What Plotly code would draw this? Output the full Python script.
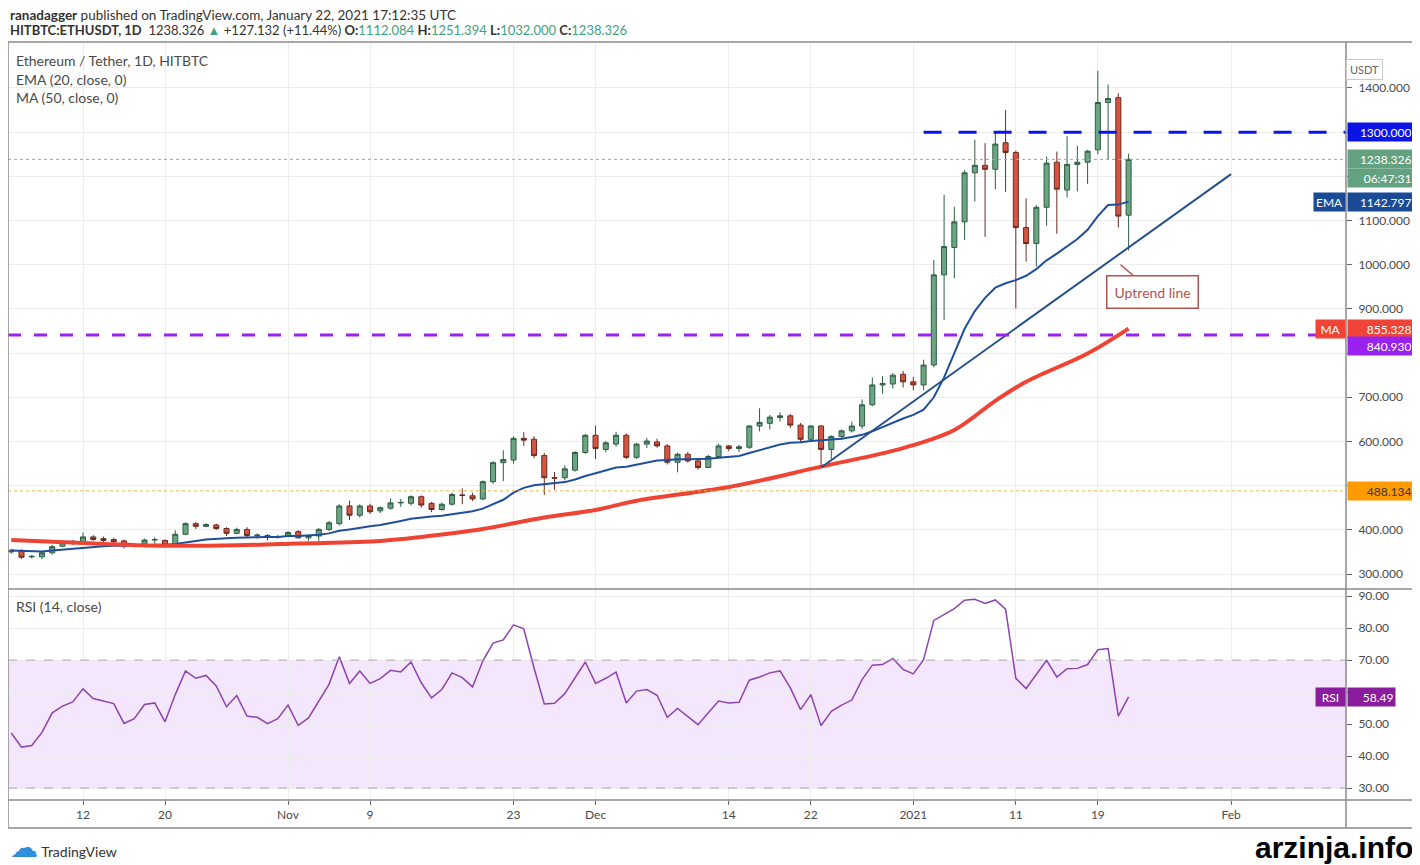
import pandas as pd
import plotly.graph_objects as go

# daily candles, HITBTC ETH/USDT
dates = pd.date_range("2020-10-05", periods=110, freq="D")

opens = [350, 353, 339, 339, 348, 363, 369, 372, 384, 380,
         378, 375, 363, 368, 377, 376, 365, 390, 414, 408,
         411, 403, 392, 401, 387, 387, 383, 386, 396, 382,
         386, 401, 414, 454, 433, 454, 443, 449, 461, 460,
         475, 460, 446, 458, 479, 477, 470, 509, 552, 558,
         607, 605, 568, 518, 518, 535, 575, 614, 582, 594,
         614, 564, 594, 599, 590, 553, 571, 556, 541, 566,
         590, 584, 587, 635, 641, 654, 658, 637, 605, 635,
         582, 611, 624, 635, 683, 728, 730, 752, 735, 728,
         773, 977, 1039, 1097, 1208, 1225, 1216, 1276, 1254, 1084,
         1048, 1130, 1232, 1169, 1227, 1232, 1260, 1367, 1378, 1112.084]

highs = [357, 356, 343, 351, 366, 374, 377, 394, 388, 385,
         382, 378, 369, 380, 383, 378, 399, 417, 418, 415,
         414, 406, 405, 406, 392, 390, 389, 397, 399, 389,
         404, 420, 458, 466, 458, 459, 453, 471, 470, 478,
         478, 463, 462, 484, 494, 484, 512, 555, 580, 612,
         621, 612, 574, 531, 546, 578, 617, 636, 601, 622,
         618, 597, 608, 606, 594, 575, 576, 558, 570, 595,
         592, 592, 637, 675, 660, 666, 662, 642, 637, 637,
         614, 627, 645, 695, 745, 748, 755, 760, 746, 785,
         1011, 1158, 1131, 1214, 1283, 1275, 1299, 1350, 1258, 1150,
         1135, 1245, 1256, 1291, 1269, 1260, 1439, 1408, 1388, 1251.394]

lows = [346, 334, 335, 334, 344, 361, 366, 368, 375, 372,
        368, 358, 360, 366, 369, 363, 362, 388, 402, 406,
        400, 386, 390, 382, 380, 376, 380, 384, 380, 375,
        375, 397, 410, 422, 428, 436, 438, 446, 452, 455,
        450, 440, 443, 455, 458, 465, 467, 504, 510, 550,
        590, 562, 479, 491, 512, 532, 572, 560, 575, 588,
        560, 560, 585, 586, 548, 530, 552, 536, 540, 562,
        578, 576, 583, 623, 627, 645, 630, 597, 600, 541,
        560, 604, 620, 628, 680, 708, 720, 722, 716, 716,
        768, 875, 969, 1056, 1143, 1063, 1171, 1165, 901, 1007,
        996, 1088, 1070, 1152, 1166, 1183, 1250, 1237, 1084, 1032.000]

closes = [354, 338, 340, 348, 362, 371, 374, 384, 378, 376,
          373, 363, 366, 377, 378, 365, 390, 414, 408, 412,
          403, 392, 401, 387, 388, 383, 384, 394, 382, 387,
          401, 416, 454, 433, 454, 441, 450, 461, 462, 475,
          456, 446, 458, 480, 478, 470, 509, 552, 559, 607,
          603, 568, 518, 517, 538, 575, 614, 584, 597, 614,
          564, 594, 601, 590, 553, 571, 556, 541, 566, 590,
          584, 588, 635, 643, 655, 658, 637, 605, 635, 582,
          611, 624, 635, 683, 728, 731, 750, 735, 728, 773,
          977, 1041, 1097, 1208, 1225, 1216, 1273, 1254, 1084, 1048,
          1130, 1230, 1171, 1227, 1232, 1257, 1367, 1376, 1110, 1238.326]

# EMA (20) per candle
ema20 = [353, 352, 351, 351, 353, 355, 357, 360, 362, 363,
         364, 364, 364, 365, 366, 366, 368, 372, 375, 378,
         380, 381, 382, 383, 384, 384, 384, 386, 386, 387,
         389, 392, 398, 401, 405, 408, 411, 415, 420, 425,
         428, 430, 432, 435, 439, 442, 448, 458, 468, 484,
         495, 501, 503, 505, 508, 514, 522, 528, 534, 541,
         543, 548, 553, 557, 558, 560, 560, 560, 561, 563,
         565, 567, 574, 580, 587, 593, 597, 598, 601, 603,
         604, 606, 610, 615, 623, 633, 643, 652, 660, 672,
         700, 745, 800, 855, 895, 925, 948, 958, 965, 975,
         990, 1010, 1025, 1041, 1058, 1079, 1110, 1135, 1136, 1142.797]

# MA (50), read at a few points along the red line
ma_dates = ["2020-10-05", "2020-10-12", "2020-10-20", "2020-10-27", "2020-11-02",
            "2020-11-10", "2020-11-14", "2020-11-20", "2020-11-26", "2020-12-01",
            "2020-12-05", "2020-12-14", "2020-12-23", "2020-12-31", "2021-01-05",
            "2021-01-09", "2021-01-12", "2021-01-18", "2021-01-22"]
ma50 = [377, 370, 364, 365, 369, 375, 384, 402, 428, 445,
        466, 497, 543, 585, 626, 692, 735, 799, 855.328]

# RSI (14, close) per candle
rsi14 = [47.2, 42.8, 43.3, 47.4, 53.5, 55.6, 56.9, 61.0, 58.0, 57.2,
         56.4, 50.2, 51.7, 56.1, 56.6, 50.7, 59.2, 66.6, 64.3, 65.2,
         61.9, 55.4, 58.9, 52.5, 52.1, 50.1, 51.7, 55.9, 49.6, 51.9,
         57.2, 62.4, 71.0, 62.7, 66.6, 62.7, 64.2, 66.8, 66.3, 69.4,
         62.9, 58.2, 60.8, 66.0, 64.5, 61.6, 69.7, 75.3, 76.3, 81.0,
         79.8, 67.5, 56.3, 56.5, 59.5, 64.5, 69.4, 62.7, 64.3, 66.2,
         56.6, 60.3, 60.8, 59.0, 52.1, 54.9, 52.4, 49.8, 53.5, 57.2,
         56.6, 56.8, 63.7, 64.7, 66.0, 66.6, 61.3, 54.5, 59.2, 49.5,
         54.0, 55.9, 57.5, 63.9, 68.4, 68.6, 70.5, 67.1, 65.7, 70.1,
         82.4, 84.3, 86.1, 88.7, 89.0, 87.7, 88.8, 85.9, 64.3, 61.1,
         65.5, 69.9, 64.7, 67.3, 67.4, 68.6, 73.2, 73.6, 52.5, 58.49]

resistance = 1300.0
resistance_from = "2021-01-02"
support = 840.930
marked_level = 488.134
last_close = 1238.326
ema_last = 1142.797
ma_last = 855.328
rsi_last = 58.49

trend_dates = ["2020-12-23", "2021-02-01"]
trend_prices = [541, 1205]

tick_dates = ["2020-10-12", "2020-10-20", "2020-11-01", "2020-11-09", "2020-11-23", "2020-12-01",
              "2020-12-14", "2020-12-22", "2021-01-01", "2021-01-11", "2021-01-19", "2021-02-01"]
tick_text = ["12", "20", "Nov", "9", "23", "Dec", "14", "22", "2021", "11", "19", "Feb"]
price_ticks = [300, 400, 500, 600, 700, 800, 900, 1000, 1100, 1200, 1300, 1400]
# labels hidden behind the coloured price tags are left blank
price_text = ["300.000", "400.000", "", "600.000", "700.000", "", "900.000", "1000.000",
              "1100.000", "", "", "1400.000"]
rsi_ticks = [30, 40, 50, 60, 70, 80, 90]
rsi_text = ["30.00", "40.00", "50.00", "", "70.00", "80.00", "90.00"]

FONT = "Lato, 'Noto Sans', sans-serif"
TXT = "#4a4a4a"
GRID = "#ececec"
FRAME = "#8a8a8a"
x_range = ["2020-10-04 16:24", "2021-02-12 05:00"]
X_RIGHT = 1.0508  # right edge of the price scale, paper units

fig = go.Figure()

fig.add_trace(go.Candlestick(
    x=dates, open=opens, high=highs, low=lows, close=closes,
    increasing=dict(fillcolor="#6ba583", line=dict(color="#2e5e43", width=1)),
    decreasing=dict(fillcolor="#d75442", line=dict(color="#6b2a20", width=1)),
    whiskerwidth=0, xaxis="x", yaxis="y", hoverinfo="skip"))

fig.add_trace(go.Scatter(x=dates, y=ema20, mode="lines", line=dict(color="#1f4f9c", width=2),
                         xaxis="x", yaxis="y", hoverinfo="skip"))
fig.add_trace(go.Scatter(x=ma_dates, y=ma50, mode="lines", line=dict(color="#ef4434", width=4),
                         line_shape="spline", xaxis="x", yaxis="y", hoverinfo="skip"))
fig.add_trace(go.Scatter(x=trend_dates, y=trend_prices, mode="lines", line=dict(color="#24508c", width=2),
                         xaxis="x", yaxis="y", hoverinfo="skip"))
fig.add_trace(go.Scatter(x=dates, y=rsi14, mode="lines", line=dict(color="#8e44ad", width=1.5),
                         xaxis="x", yaxis="y2", hoverinfo="skip"))

# page has an 8px body margin, so the figure is 8px smaller than the window
fig.update_layout(
    width=1412, height=857,
    margin=dict(l=0, r=74, t=34, b=37),
    paper_bgcolor="white", plot_bgcolor="white",
    showlegend=False,
    font=dict(family=FONT, size=12, color=TXT),
    xaxis=dict(type="date", range=x_range, anchor="y2", tickvals=tick_dates, ticktext=tick_text,
               showgrid=True, gridcolor=GRID, gridwidth=1, ticks="outside", ticklen=4,
               tickcolor="#666", zeroline=False, showline=False,
               rangeslider=dict(visible=False), tickfont=dict(size=12, color=TXT)),
    yaxis=dict(domain=[0.3053, 1], range=[268.3, 1504], side="right", tickvals=price_ticks,
               ticktext=price_text, showgrid=True, gridcolor=GRID, zeroline=False, ticks="outside",
               ticklen=5, tickcolor="#666", ticklabelstandoff=4, tickfont=dict(size=12, color=TXT)),
    yaxis2=dict(domain=[0.0356, 0.3028], range=[26.25, 91.9], side="right", tickvals=rsi_ticks,
                ticktext=rsi_text, showgrid=True, gridcolor=GRID, zeroline=False, ticks="outside",
                ticklen=5, tickcolor="#666", ticklabelstandoff=4, tickfont=dict(size=12, color=TXT)),
)

# RSI band
fig.add_shape(type="rect", xref="paper", x0=0, x1=1, yref="y2", y0=30, y1=70,
              fillcolor="#f3e6fd", line=dict(width=0), layer="below")
for lvl in (30, 70):
    fig.add_shape(type="line", xref="paper", x0=0, x1=1, yref="y2", y0=lvl, y1=lvl,
                  line=dict(color="#a8a8a8", width=1, dash="dash"), layer="above")

# horizontal levels
fig.add_shape(type="line", xref="x", x0=x_range[0], x1=x_range[1], yref="y", y0=last_close, y1=last_close,
              line=dict(color="#a5a5a5", width=1, dash="dot"))
fig.add_shape(type="line", xref="x", x0=x_range[0], x1=x_range[1], yref="y", y0=marked_level, y1=marked_level,
              line=dict(color="#e8b44a", width=1, dash="dot"))
fig.add_shape(type="line", xref="x", x0=resistance_from, x1=x_range[1], yref="y", y0=resistance, y1=resistance,
              line=dict(color="#0a14e6", width=3, dash="18px,17px"))
fig.add_shape(type="line", xref="x", x0=x_range[0], x1=x_range[1], yref="y", y0=support, y1=support,
              line=dict(color="#9a22f0", width=3, dash="13px,13px"))

# frame
fig.add_shape(type="rect", xref="paper", yref="paper", x0=0, x1=X_RIGHT, y0=0, y1=1,
              line=dict(color=FRAME, width=1.5))
fig.add_shape(type="line", xref="paper", yref="paper", x0=1, x1=1, y0=0, y1=1,
              line=dict(color=FRAME, width=1.5))
fig.add_shape(type="line", xref="paper", yref="paper", x0=0, x1=X_RIGHT, y0=0.3041, y1=0.3041,
              line=dict(color=FRAME, width=1.5))
fig.add_shape(type="line", xref="paper", yref="paper", x0=0, x1=X_RIGHT, y0=0.0356, y1=0.0356,
              line=dict(color=FRAME, width=1.5))


def axis_tag(y, text, bg, fg="white", yref="y", shift=0, w=62):
    fig.add_annotation(xref="paper", x=1, xanchor="left", xshift=1, yref=yref, y=y, yshift=shift,
                       text=text, showarrow=False, bgcolor=bg, width=w, height=15, borderpad=1.5,
                       align="right", font=dict(color=fg, size=12, family=FONT))


def side_tag(y, text, bg, yref="y", w=26):
    fig.add_annotation(xref="paper", x=1, xanchor="right", xshift=0, yref=yref, y=y,
                       text=text, showarrow=False, bgcolor=bg, width=w, height=15, borderpad=1.5,
                       align="center", font=dict(color="white", size=12, family=FONT))


axis_tag(resistance, "1300.000", "#0a14e6")
axis_tag(last_close, "1238.326", "#64a180")
axis_tag(last_close, "06:47:31", "#64a180", shift=-19)
axis_tag(ema_last, "1142.797", "#1b4b97")
side_tag(ema_last, "EMA", "#1b4b97", w=28)
axis_tag(ma_last, "855.328", "#f04438")
side_tag(ma_last, "MA", "#f04438")
axis_tag(support, "840.930", "#9a22f0", shift=-11)
axis_tag(marked_level, "488.134", "#ff9a00", fg="#333333")
axis_tag(rsi_last, "58.49", "#8a1d9c", yref="y2", w=44)
side_tag(rsi_last, "RSI", "#8a1d9c", yref="y2")

fig.add_annotation(xref="paper", yref="paper", x=1.0277, y=0.9784, text="USDT", showarrow=False,
                   bordercolor="#cccccc", borderwidth=1, borderpad=3, bgcolor="white",
                   font=dict(size=11, color="#666666", family=FONT))

# pane titles
for ytxt, txt in [(0.977, "Ethereum / Tether, 1D, HITBTC"), (0.9529, "EMA (20, close, 0)"),
                  (0.930, "MA (50, close, 0)"), (0.2824, "RSI (14, close)")]:
    fig.add_annotation(xref="paper", yref="paper", x=0.0045, y=ytxt, xanchor="left", yanchor="middle",
                       text=txt, showarrow=False, font=dict(size=14, color=TXT, family=FONT))

# header (first line nudged down a little so it is not clipped at the top)
fig.add_annotation(xref="paper", yref="paper", x=0, y=1.0346, xanchor="left", yanchor="middle",
                   text="<b>ranadagger</b> published on TradingView.com, January 22, 2021 17:12:35 UTC",
                   showarrow=False, font=dict(size=13.5, color="#333333", family=FONT))
green = "#3fa27f"
hdr = ("<b>HITBTC:ETHUSDT, 1D</b>  1238.326 <span style='color:%s'>▲</span> +127.132 (+11.44%%) "
       "<b>O:</b><span style='color:%s'>1112.084</span> <b>H:</b><span style='color:%s'>1251.394</span> "
       "<b>L:</b><span style='color:%s'>1032.000</span> <b>C:</b><span style='color:%s'>1238.326</span>"
       % (green, green, green, green, green))
fig.add_annotation(xref="paper", yref="paper", x=0, y=1.0155, xanchor="left", yanchor="middle",
                   text=hdr, showarrow=False, font=dict(size=13, color="#333333", family=FONT))

# uptrend line callout
fig.add_annotation(x="2021-01-21 05:00", y=1000, xref="x", yref="y", text="Uptrend line",
                   showarrow=True, ax=32, ay=27, arrowhead=0, arrowwidth=1.5, arrowcolor="#b5524f",
                   bordercolor="#b5524f", borderwidth=1.5, borderpad=7, bgcolor="white",
                   font=dict(size=14, color="#b5524f", family=FONT))

# footer
fig.add_annotation(xref="paper", yref="paper", x=0, y=-0.0242, xanchor="left", yanchor="middle",
                   text="<span style='color:#2f8fd8;font-size:28px;font-family:DejaVu Sans'>☁</span> TradingView",
                   showarrow=False, font=dict(size=14, color="#333333", family=FONT))
fig.add_annotation(xref="paper", yref="paper", x=1.0516, y=-0.0254, xanchor="right", yanchor="middle",
                   text="<b>arzinja.info</b>", showarrow=False,
                   font=dict(size=30, color="#000000", family="Liberation Sans, Arial, sans-serif"))

fig.write_html("out.html")
